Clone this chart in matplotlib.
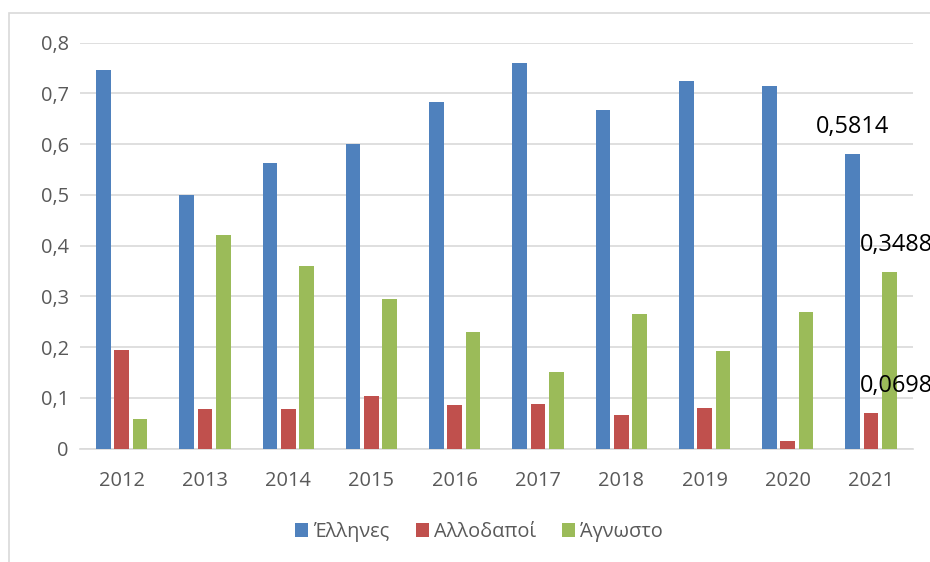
import matplotlib
matplotlib.use("Agg")
import matplotlib.pyplot as plt
import numpy as np
from matplotlib.patches import Rectangle

plt.rcParams['font.family'] = ['Open Sans', 'DejaVu Sans']

years = ['2012', '2013', '2014', '2015', '2016', '2017', '2018', '2019', '2020', '2021']
ellines = [0.7455, 0.4998, 0.5622, 0.6003, 0.6824, 0.7606, 0.6667, 0.7251, 0.7153, 0.5814]
allodapoi = [0.1938, 0.0782, 0.0782, 0.1044, 0.0860, 0.0874, 0.0663, 0.0808, 0.0144, 0.0698]
agnosto = [0.0591, 0.4210, 0.3593, 0.2949, 0.2305, 0.1517, 0.2660, 0.1931, 0.2686, 0.3488]
series_names = ['Έλληνες', 'Αλλοδαποί', 'Άγνωστο']
colors = ['#4F81BD', '#C0504D', '#9BBB59']

fig = plt.figure(figsize=(9.3, 5.62), dpi=100)
ax = fig.add_axes([80 / 930, 1 - 448.7 / 562, 832.7 / 930, 406 / 562])

# outer chart border
fig.patches.append(Rectangle((9 / 930, -0.1), 1.2, 1 - 13 / 562 + 0.1,
                             transform=fig.transFigure, fill=False,
                             edgecolor='#d9d9d9', linewidth=1.2))

x = np.arange(len(years))
w = 0.176
step = 0.22
bars = []
for i, (vals, c, name) in enumerate(zip([ellines, allodapoi, agnosto], colors, series_names)):
    b = ax.bar(x + (i - 1) * step, vals, width=w, color=c, label=name, zorder=3)
    bars.append(b)

ax.set_ylim(0, 0.8)
ax.set_xlim(-0.5, len(years) - 0.5)
ax.set_yticks(np.arange(0, 0.81, 0.1))
ax.set_yticklabels(['0'] + [f'{v:.1f}'.replace('.', ',') for v in np.arange(0.1, 0.81, 0.1)])
ax.set_xticks(x)
ax.set_xticklabels(years)
ax.tick_params(axis='both', length=0, labelsize=14.4, colors='#595959')
ax.tick_params(axis='x', pad=16)
ax.tick_params(axis='y', pad=8)
ax.grid(axis='y', color='#d9d9d9', linewidth=1.2, zorder=0)
for s in ['top', 'right', 'left']:
    ax.spines[s].set_visible(False)
ax.spines['bottom'].set_color('#d9d9d9')
ax.spines['bottom'].set_linewidth(1.2)

# data labels for 2021
last = len(years) - 1
blue_bar = bars[0][last]
ax.annotate(f'{ellines[last]:.4f}'.replace('.', ','),
            xy=(blue_bar.get_x() + blue_bar.get_width() / 2, ellines[last]),
            xytext=(0, 19.5), textcoords='offset points', ha='center', va='center',
            fontsize=16.9, color='black', annotation_clip=False)
left_edge = blue_bar.get_x() + blue_bar.get_width()
ax.annotate(f'{agnosto[last]:.4f}'.replace('.', ','), xy=(left_edge, agnosto[last]),
            xytext=(0, 19.5), textcoords='offset points', ha='left', va='center',
            fontsize=16.9, color='black', annotation_clip=False)
ax.annotate(f'{allodapoi[last]:.4f}'.replace('.', ','), xy=(left_edge, allodapoi[last]),
            xytext=(0, 19.5), textcoords='offset points', ha='left', va='center',
            fontsize=16.9, color='black', annotation_clip=False)

handles, labels = ax.get_legend_handles_labels()
fig.legend(handles, labels, loc='center', bbox_to_anchor=(479 / 930, 1 - 532 / 562),
           ncol=3, frameon=False, fontsize=14.4, labelcolor='#595959',
           handlelength=0.65, handleheight=0.65, handletextpad=0.25, columnspacing=1.3)

fig.savefig('out.png', dpi=100)
